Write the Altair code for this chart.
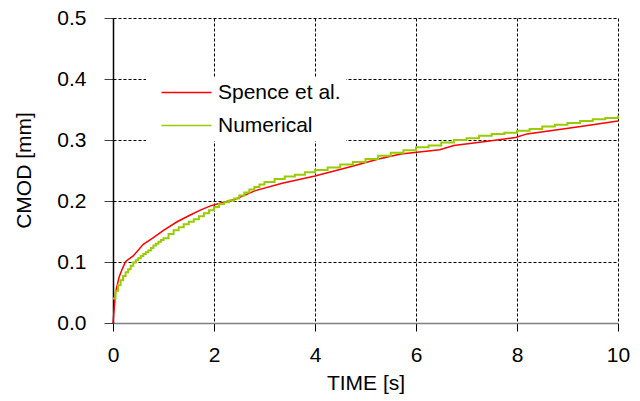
import altair as alt
import pandas as pd

# Crack mouth opening displacement over time: reference curve (Spence et al.)
spence_t = [0.0, 0.05, 0.12, 0.18, 0.25, 0.4, 0.6, 0.8, 1.0, 1.27, 1.53, 1.73,
            1.93, 2.1, 2.42, 2.82, 3.35, 4.0, 4.7, 5.26, 5.7, 6.02, 6.47,
            6.75, 7.34, 7.97, 8.2, 9.26, 10.0]
spence_cmod = [0.0, 0.05, 0.075, 0.088, 0.101, 0.110, 0.129, 0.140, 0.152,
               0.166, 0.177, 0.185, 0.192, 0.196, 0.203, 0.217, 0.229, 0.241,
               0.256, 0.269, 0.277, 0.280, 0.284, 0.291, 0.297, 0.304, 0.310,
               0.322, 0.331]

# Numerical result (stepped output)
numerical_t = [0.0, 0.05, 0.1, 0.15, 0.2, 0.25, 0.3, 0.35, 0.4, 0.45, 0.5,
               0.55, 0.6, 0.65, 0.7, 0.75, 0.8, 0.85, 0.9, 0.95,
               1.0, 1.1, 1.2, 1.3, 1.4, 1.5, 1.6, 1.7, 1.8, 1.9, 2.0, 2.1,
               2.2, 2.3, 2.4, 2.5, 2.6, 2.7, 2.8, 2.9, 3.0, 3.2, 3.4, 3.6,
               3.8, 4.0, 4.25, 4.5, 4.75, 5.0, 5.25, 5.5, 5.75, 6.0, 6.25,
               6.5, 6.75, 7.0, 7.25, 7.5, 7.75, 8.0, 8.25, 8.5, 8.75, 9.0,
               9.25, 9.5, 9.75, 10.0]
numerical_cmod = [0.040, 0.053, 0.062, 0.070, 0.077, 0.083, 0.088, 0.094,
                  0.099, 0.103, 0.106, 0.110, 0.113, 0.116, 0.119, 0.123,
                  0.127, 0.130, 0.133, 0.136,
                  0.139, 0.146, 0.152, 0.157,
                  0.162, 0.166, 0.170, 0.175, 0.180, 0.185, 0.190, 0.195,
                  0.198, 0.201, 0.204, 0.209, 0.214, 0.219, 0.223, 0.227,
                  0.231, 0.236, 0.240, 0.243, 0.247, 0.251, 0.255, 0.260,
                  0.264, 0.269, 0.274, 0.279, 0.283, 0.288, 0.291, 0.296,
                  0.300, 0.303, 0.307, 0.310, 0.312, 0.315, 0.318, 0.322,
                  0.325, 0.328, 0.331, 0.334, 0.336, 0.340]

series_names = ["Spence et al.", "Numerical"]
series_colors = ["#ff0000", "#99cc00"]
x_ticks = [0, 2, 4, 6, 8, 10]
y_ticks = [0.0, 0.1, 0.2, 0.3, 0.4, 0.5]

FONT = "Liberation Sans"
FONT_SIZE = 21

spence = pd.DataFrame({"t": spence_t, "cmod": spence_cmod,
                       "series": series_names[0]})
numerical = pd.DataFrame({"t": numerical_t, "cmod": numerical_cmod,
                          "series": series_names[1]})

x_enc = alt.X(
    "t:Q",
    scale=alt.Scale(domain=[0, 10], nice=False, zero=False),
    axis=alt.Axis(
        values=x_ticks, format="d", title="TIME [s]",
        grid=True, gridColor="#000000", gridDash=[3, 2], gridWidth=1,
        domainColor="#808080", domainWidth=1.5,
        tickColor="#000000", tickSize=8, tickWidth=1,
        labelFont=FONT, labelFontSize=FONT_SIZE, labelColor="#000000",
        labelPadding=13, labelFlush=False,
        titleFont=FONT, titleFontSize=FONT_SIZE, titleFontWeight="normal",
        titleColor="#000000", titleY=66, titleBaseline="alphabetic",
    ),
)
y_enc = alt.Y(
    "cmod:Q",
    scale=alt.Scale(domain=[0, 0.5], nice=False),
    axis=alt.Axis(
        values=y_ticks, format=".1f", title="CMOD [mm]",
        grid=True, gridColor="#000000", gridDash=[3, 2], gridWidth=1,
        domainColor="#000000", domainWidth=1.5,
        tickColor="#404040", tickSize=9, tickWidth=1,
        labelFont=FONT, labelFontSize=FONT_SIZE, labelColor="#000000",
        labelPadding=18, labelFlush=False,
        titleFont=FONT, titleFontSize=FONT_SIZE, titleFontWeight="normal",
        titleColor="#000000", titleX=-83, titleY=152,
        titleBaseline="alphabetic", titleAngle=-90,
    ),
)
color_enc = alt.Color(
    "series:N",
    scale=alt.Scale(domain=series_names, range=series_colors),
    legend=alt.Legend(
        orient="none", legendX=33, legendY=59, title=None,
        fillColor="white", padding=5,
        symbolType="M0,0H10", symbolSize=100, symbolStrokeWidth=1.5,
        labelOffset=46, labelFont=FONT, labelFontSize=FONT_SIZE,
        labelColor="#000000", rowPadding=11,
    ),
)

spence_line = alt.Chart(spence).mark_line(
    strokeWidth=1.5, interpolate="linear"
).encode(x=x_enc, y=y_enc, color=color_enc)

numerical_line = alt.Chart(numerical).mark_line(
    strokeWidth=2, interpolate="step-after"
).encode(x=x_enc, y=y_enc, color=color_enc)

chart = alt.layer(spence_line, numerical_line).properties(
    width=505, height=305,
    autosize=alt.AutoSizeParams(type="none"),
    padding={"left": 113, "top": 18, "right": 22, "bottom": 78},
    background="white",
).configure_view(stroke=None)

chart.save("out.html", embed_options={"renderer": "svg", "actions": False})
